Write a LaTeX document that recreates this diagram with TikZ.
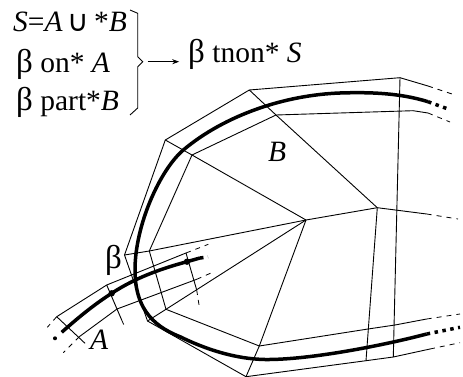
\documentclass[tikz,border=0pt]{standalone}
\usepackage{fontspec}
\usepackage{tikz}
\usetikzlibrary{arrows.meta,calc}
\setmainfont{Liberation Serif}
\newfontfamily\symfont{DejaVu Sans}
\newcommand{\bet}{{\fontsize{33}{33}\selectfont β}}
\tikzset{
thinline/.style={line width=0.9pt,line join=miter},
dashline/.style={line width=0.8pt,dash pattern=on 5pt off 5pt},
curveline/.style={line width=3.5pt},
dotline/.style={line width=3.5pt,dash pattern=on 3.5pt off 4.5pt},
label/.style={inner sep=0pt,anchor=base west,font=\fontsize{29.5}{30}\selectfont}
}
\begin{document}
\begin{tikzpicture}[x=1pt,y=-1pt]
\useasboundingbox (0,0) rectangle (463,377);
\coordinate (beta) at (124.5,255);
\coordinate (hub) at (306,220);
\coordinate (o1) at (165.3,140);
\coordinate (o2) at (249.3,90);
\coordinate (o3) at (400,77.7);
\coordinate (o4) at (428,86);
\coordinate (o5) at (452,94);
\coordinate (i0) at (149.3,251);
\coordinate (i1) at (192,155);
\coordinate (i2) at (276,115);
\coordinate (i3) at (413,110.7);
\coordinate (i4) at (428,113);
\coordinate (i5) at (450,122);
\coordinate (m1) at (377.3,207.7);
\coordinate (m2) at (426.7,214);
\coordinate (m3) at (458,219);
\coordinate (p1) at (147.5,321);
\coordinate (p2) at (246,376.7);
\coordinate (p3) at (366,360.7);
\coordinate (p4) at (393.3,357);
\coordinate (p5) at (430,349);
\coordinate (p6) at (460,342.7);
\coordinate (q1) at (166,309.3);
\coordinate (q2) at (259.3,346);
\coordinate (q3) at (368,329);
\coordinate (q4) at (395,325);
\coordinate (q5) at (426.7,319);
\coordinate (q6) at (460,314);
\draw[thinline] (beta)--(o1)--(o2)--(o3)--(o4);
\draw[dashline] (o4)--(o5);
\draw[thinline] (beta)--(i0)--(i1)--(i2)--(i3)--(i4);
\draw[dashline] (i4)--(i5);
\draw[thinline] (o1)--(i1)--(hub);
\draw[thinline] (o2)--(i2)--(m1);
\draw[thinline] (i0)--(hub)--(m1)--(m2);
\draw[dashline] (m2)--(m3);
\draw[thinline] (o3)--(p4);
\draw[thinline] (m1)--(p3);
\draw[thinline] (beta)--(p1)--(p2)--(p3)--(p4)--(p5);
\draw[dashline] (p5)--(p6);
\draw[thinline] (i0)--(q1)--(q2)--(q3)--(q4)--(q5);
\draw[dashline] (q5)--(q6);
\draw[thinline] (p1)--(q1)--(hub);
\draw[thinline] (hub)--(q2)--(p2);
\draw[curveline] (428,101.7) .. controls (400,93) and (370,92) .. (340,93) .. controls (285,95) and (225,115) .. (183.3,150) .. controls (160,170) and (135,225) .. (135,270) .. controls (135,305) and (150,325) .. (180,336.7) .. controls (205,349) and (235,359) .. (265,359.5) .. controls (310,360) and (385,345) .. (426.7,334);
\draw[dotline] (428,101.7)--(448,109);
\draw[dotline] (426.7,334)--(460,327.3);
\coordinate (a1) at (56.7,316.7);
\coordinate (a2) at (106.7,285);
\coordinate (a3) at (186,253);
\coordinate (b1) at (79.3,336.7);
\coordinate (b2) at (117,309);
\coordinate (b3) at (196.7,279.3);
\coordinate (d1) at (111.7,293.3);
\coordinate (d2) at (187,261.7);
\draw[thinline] (a1)--(a2)--(a3);
\draw[thinline] (b1)--(b2)--(b3);
\draw[thinline] (a1)--(85,343.3);
\draw[thinline] (a2)--(121.7,320);
\draw[thinline] (a3)--(196.7,290);
\draw[dashline] (a1)--(47.3,327.3);
\draw[dashline] (b1)--(63.3,352.7);
\draw[dashline] (a3)--(208.3,244.3);
\draw[dashline] (b3)--(214,271.7);
\draw[dashline] (121.7,320)--(125.7,329);
\draw[dashline] (196.7,290)--(199.3,306.7);
\draw[curveline] (61.7,332.3) .. controls (80,316) and (95,304) .. (d1) .. controls (135,278) and (160,269) .. (d2) -- (200,258);
\draw[dotline] (200,258)--(208,257);
\fill (55,338.3) circle (2pt);
\fill (d1) circle (3.2pt);
\fill (d2) circle (3.2pt);
\node[label] (l1) at (13,32) {\textit{S}=\textit{A}\,{\symfont ∪}\,*\textit{B}};
\node[label] (l2) at (16,72.7) {\bet\ on* \textit{A}};
\node[label] (l3) at (16,110.7) {\bet\ part*\textit{B}};
\node[label] (res) at (188,63) {\bet\ tnon* \textit{S}};
\node[label] (lb) at (105,268) {\bet};
\node[label] (la) at (90,349) {\textit{A}};
\node[label] (lB) at (268,161.7) {\textit{B}};
\coordinate (tip) at (142.7,61.7);
\draw[thinline] (130,10)--(137.7,13.3)--(137.7,56.7)--(tip)--(137.7,66.7)--(137.7,108)--(130,115);
\draw[thinline,-{Stealth[length=7pt,width=5pt]}] ([xshift=5pt]tip)--([xshift=36.5pt]tip);
\end{tikzpicture}
\end{document}
